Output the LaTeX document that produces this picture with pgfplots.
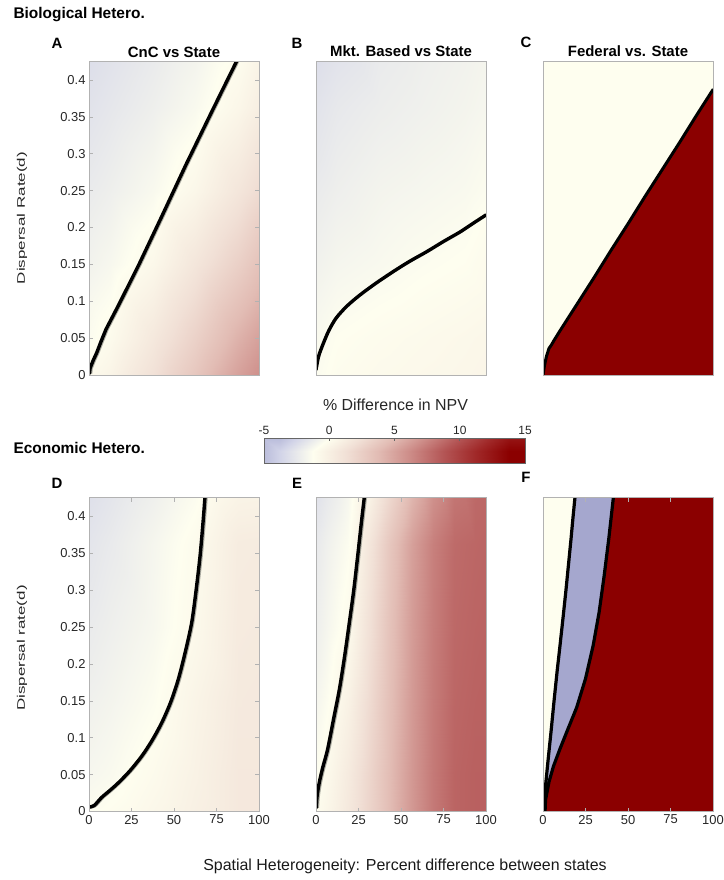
\documentclass[border=0pt]{standalone}
\usepackage{fontspec}
\setmainfont{Liberation Sans}
\usepackage{pgfplots}
\pgfplotsset{compat=1.18}

\definecolor{ivory}{RGB}{254,254,239}
\definecolor{npvblue}{RGB}{165,167,206}
\definecolor{npvred}{RGB}{139,0,0}
\definecolor{axgray}{RGB}{178,178,178}
\definecolor{halo}{RGB}{170,170,160}

\pgfplotsset{
  colormap={npv}{rgb255(0)=(163,166,206) rgb255(2.5)=(210,212,232) rgb255(5)=(254,254,239)
    rgb255(7.5)=(241,224,214) rgb255(10)=(226,188,180) rgb255(12.5)=(204,138,134)
    rgb255(15)=(180,86,86) rgb255(17.5)=(160,40,40) rgb255(20)=(139,0,0)},
  panel/.style={
    scale only axis, width=170bp, height=314bp, anchor=north west,
    xmin=0, xmax=100, ymin=0, ymax=0.4257,
    axis line style={axgray, line width=0.6bp},
    every tick/.style={axgray, line width=0.6bp},
    tick align=inside, major tick length=4bp,
    tick label style={font=\fontsize{13}{13}\selectfont, text=black!85},
    /pgf/number format/assume math mode=true,
    colormap name=npv, point meta min=-5, point meta max=15,
    xtick={0,25,50,75,100},
    ytick={0,0.05,0.1,0.15,0.2,0.25,0.3,0.35,0.4},
    yticklabel style={/pgf/number format/fixed, /pgf/number format/precision=2},
    axis on top,
  },
  contour/.style={black, line width=3.4bp, line join=round, line cap=round},
  shadow/.style={halo, line width=3.4bp, xshift=1.1bp, line join=round},
}

\newcommand{\ptitle}[1]{\fontsize{15}{15}\selectfont\bfseries #1}

\begin{document}
\begin{tikzpicture}
\path[use as bounding box] (0bp,0bp) rectangle (724bp,-880bp);

% ---------- row headings and panel letters ----------
\node[anchor=west, font=\fontsize{15.5}{15.5}\selectfont\bfseries] at (10bp,-15bp) {Biological Hetero.};
\node[anchor=west, font=\fontsize{15.5}{15.5}\selectfont\bfseries] at (10bp,-448bp) {Economic Hetero.};
\foreach \L/\x/\y in {A/57/43, B/297/43, C/526/42, D/57/483, E/297/483, F/526/477}
  \node[font=\fontsize{15}{15}\selectfont\bfseries] at (\x bp,-\y bp) {\L};

\node[font=\ptitle{}] at (174bp,-52bp) {CnC vs State};
\node[font=\ptitle{}] at (401bp,-51bp) {Mkt. Based vs State};
\node[font=\ptitle{}] at (628bp,-51bp) {Federal vs. State};

\node[rotate=90, xscale=1.55, font=\fontsize{11}{11}\selectfont, text=black!85] at (22bp,-218bp) {Dispersal Rate(d)};
\node[rotate=90, xscale=1.55, font=\fontsize{11}{11}\selectfont, text=black!85] at (22bp,-648bp) {Dispersal rate(d)};
\node[font=\fontsize{16}{16}\selectfont, text=black!90] at (405bp,-866bp) {Spatial Heterogeneity: Percent difference between states};

% ---------- A: CnC vs State ----------
\begin{axis}[panel, at={(89bp,-61bp)}, xtick=\empty]
\addplot[matrix plot*, shader=interp, mesh/cols=5, point meta=explicit] table[meta=c] {
x y c
0 0 0
25 0 1.3
50 0 3.0
75 0 5.0
100 0 7.2
0 0.1 -0.6
25 0.1 0.3
50 0.1 1.8
75 0.1 3.5
100 0.1 5.5
0 0.2 -1.0
25 0.2 -0.4
50 0.2 0.5
75 0.2 2.0
100 0.2 3.6
0 0.3 -1.4
25 0.3 -0.9
50 0.3 -0.3
75 0.3 0.6
100 0.3 2.0
0 0.4257 -1.9
25 0.4257 -1.4
50 0.4257 -0.9
75 0.4257 -0.3
100 0.4257 0.6
};
\addplot[shadow] coordinates {(0.3,0.002) (0.6,0.009) (2.5,0.02) (4.5,0.03) (7,0.045) (10,0.062) (17,0.093) (29,0.148) (43,0.216) (57,0.285) (72,0.356) (86.9,0.4257)};
\addplot[contour] coordinates {(0.3,0.002) (0.6,0.009) (2.5,0.02) (4.5,0.03) (7,0.045) (10,0.062) (17,0.093) (29,0.148) (43,0.216) (57,0.285) (72,0.356) (86.9,0.4257)};
\end{axis}

% ---------- B: Mkt. Based vs State ----------
\begin{axis}[panel, at={(316bp,-61bp)}, xtick=\empty, ytick=\empty]
\addplot[matrix plot*, shader=interp, mesh/cols=5, point meta=explicit] table[meta=c] {
x y c
0 0 0
25 0 0.3
50 0 0.5
75 0 0.6
100 0 0.7
0 0.1 -0.6
25 0.1 0.0
50 0.1 0.2
75 0.1 0.35
100 0.1 0.5
0 0.2 -1.0
25 0.2 -0.5
50 0.2 -0.3
75 0.2 -0.1
100 0.2 0.05
0 0.3 -1.4
25 0.3 -0.9
50 0.3 -0.6
75 0.3 -0.45
100 0.3 -0.3
0 0.4257 -1.9
25 0.4257 -1.3
50 0.4257 -1.0
75 0.4257 -0.8
100 0.4257 -0.6
};
\addplot[contour, smooth] coordinates {(0,0.007) (1.5,0.025) (4,0.041) (7.5,0.06) (11.8,0.077) (18,0.093) (25.6,0.108) (35,0.124) (45.3,0.14) (55,0.154) (65,0.167) (75,0.181) (84.8,0.194) (92,0.205) (100,0.217)};
\end{axis}

% ---------- C: Federal vs. State ----------
\begin{axis}[panel, at={(543bp,-61bp)}, xtick=\empty, ytick=\empty, axis background/.style={fill=ivory}]
\addplot[fill=npvred, draw=none] coordinates {(0,0) (0.8,0.012) (2,0.025) (3.5,0.036) (5,0.041) (6.5,0.047) (10,0.06) (20,0.096) (30,0.132) (40,0.169) (50,0.205) (60,0.242) (70,0.278) (80,0.314) (90,0.351) (100,0.387) (100,0)};
\addplot[contour, line width=3bp] coordinates {(0,0) (0.8,0.012) (2,0.025) (3.5,0.036) (5,0.041) (6.5,0.047) (10,0.06) (20,0.096) (30,0.132) (40,0.169) (50,0.205) (60,0.242) (70,0.278) (80,0.314) (90,0.351) (100,0.387)};
\end{axis}

% ---------- D ----------
\begin{axis}[panel, at={(89bp,-497.5bp)}]
\addplot[matrix plot*, shader=interp, mesh/cols=5, point meta=explicit] table[meta=c] {
x y c
0 0 0
25 0 0.4
50 0 0.8
75 0 1.3
100 0 1.8
0 0.1 -0.6
25 0.1 -0.25
50 0.1 0.3
75 0.1 1.0
100 0.1 1.8
0 0.2 -1.0
25 0.2 -0.6
50 0.2 -0.1
75 0.2 0.8
100 0.2 1.7
0 0.3 -1.4
25 0.3 -0.9
50 0.3 -0.4
75 0.3 0.4
100 0.3 1.6
0 0.4257 -1.8
25 0.4257 -1.2
50 0.4257 -0.5
75 0.4257 0.25
100 0.4257 1.5
};
\addplot[shadow, smooth] coordinates {(0,0.006) (3,0.008) (7.4,0.019) (12,0.028) (17.3,0.039) (24,0.055) (31,0.075) (37,0.096) (42.7,0.12) (48,0.148) (52.5,0.179) (56.5,0.215) (60.4,0.256) (63,0.3) (65.3,0.346) (67,0.39) (68.2,0.4257)};
\addplot[contour, smooth] coordinates {(0,0.006) (3,0.008) (7.4,0.019) (12,0.028) (17.3,0.039) (24,0.055) (31,0.075) (37,0.096) (42.7,0.12) (48,0.148) (52.5,0.179) (56.5,0.215) (60.4,0.256) (63,0.3) (65.3,0.346) (67,0.39) (68.2,0.4257)};
\end{axis}

% ---------- E ----------
\begin{axis}[panel, at={(316bp,-497.5bp)}, ytick=\empty]
\addplot[matrix plot*, shader=interp, mesh/cols=9, point meta=explicit] table[meta=c] {
x y c
0 0 0
12.5 0 0.9
25 0 2.0
37.5 0 3.4
50 0 5.0
62.5 0 6.8
75 0 8.3
87.5 0 9.3
100 0 9.5
0 0.1 -0.6
12.5 0.1 0.4
25 0.1 1.6
37.5 0.1 3.2
50 0.1 5.0
62.5 0.1 6.8
75 0.1 8.3
87.5 0.1 9.3
100 0.1 9.5
0 0.2 -1.0
12.5 0.2 -0.1
25 0.2 1.0
37.5 0.2 2.8
50 0.2 4.8
62.5 0.2 6.7
75 0.2 8.2
87.5 0.2 9.2
100 0.2 9.4
0 0.3 -1.4
12.5 0.3 -0.5
25 0.3 0.3
37.5 0.3 2.4
50 0.3 4.6
62.5 0.3 6.6
75 0.3 8.1
87.5 0.3 9.1
100 0.3 9.3
0 0.4257 -1.7
12.5 0.4257 -0.8
25 0.4257 -0.1
37.5 0.4257 2.0
50 0.4257 4.3
62.5 0.4257 6.4
75 0.4257 8.0
87.5 0.4257 9.0
100 0.4257 9.2
};
\addplot[shadow, smooth] coordinates {(0.2,0.005) (0.6,0.02) (1.9,0.039) (4,0.06) (6.8,0.084) (10.3,0.125) (13.7,0.165) (16.8,0.21) (19.6,0.256) (22.2,0.3) (24.5,0.346) (26.6,0.39) (28.4,0.4257)};
\addplot[contour, smooth] coordinates {(0.2,0.005) (0.6,0.02) (1.9,0.039) (4,0.06) (6.8,0.084) (10.3,0.125) (13.7,0.165) (16.8,0.21) (19.6,0.256) (22.2,0.3) (24.5,0.346) (26.6,0.39) (28.4,0.4257)};
\end{axis}

% ---------- F ----------
\begin{axis}[panel, at={(543bp,-497.5bp)}, ytick=\empty, axis background/.style={fill=ivory}]
\addplot[fill=npvblue, draw=none] coordinates {(0.3,0) (1.5,0.035) (3,0.07) (4.8,0.11) (6.5,0.15) (8.3,0.19) (10,0.225) (11.8,0.263) (13.5,0.3) (15,0.335) (16.5,0.37) (17.7,0.4) (18.8,0.4257) (100,0.4257) (100,0)};
\addplot[fill=npvred, draw=none] coordinates {(1.2,0) (1.5,0.016) (3.5,0.04) (6.1,0.061) (10,0.085) (14,0.108) (19.8,0.141) (25,0.18) (29.5,0.225) (33,0.27) (36,0.32) (38.7,0.37) (41.4,0.4257) (100,0.4257) (100,0)};
\addplot[contour, line width=3.2bp] coordinates {(0.3,0) (1.5,0.035) (3,0.07) (4.8,0.11) (6.5,0.15) (8.3,0.19) (10,0.225) (11.8,0.263) (13.5,0.3) (15,0.335) (16.5,0.37) (17.7,0.4) (18.8,0.4257)};
\addplot[contour, line width=3.2bp] coordinates {(1.2,0) (1.5,0.016) (3.5,0.04) (6.1,0.061) (10,0.085) (14,0.108) (19.8,0.141) (25,0.18) (29.5,0.225) (33,0.27) (36,0.32) (38.7,0.37) (41.4,0.4257)};
\end{axis}

% ---------- colour bar ----------
\node[font=\fontsize{16}{16}\selectfont, text=black!85] at (395.5bp,-405bp) {\% Difference in NPV};
\begin{axis}[scale only axis, width=261bp, height=25bp, anchor=north west, at={(264bp,-438bp)},
  xmin=-5, xmax=15, ymin=0, ymax=1, ytick=\empty,
  xtick={-5,0,5,10,15}, xtick pos=right, xticklabel pos=right,
  tick align=inside, major tick length=3bp,
  axis line style={black!60, line width=0.6bp},
  every tick/.style={black!60, line width=0.6bp},
  tick label style={font=\fontsize{12}{12}\selectfont, text=black!85},
  /pgf/number format/assume math mode=true,
  colormap name=npv, point meta min=-5, point meta max=15, axis on top]
\addplot[matrix plot*, shader=interp, mesh/cols=9, point meta=explicit] table[meta=c] {
x y c
-5 0 -5
-2.5 0 -2.5
0 0 0
2.5 0 2.5
5 0 5
7.5 0 7.5
10 0 10
12.5 0 12.5
15 0 15
-5 1 -5
-2.5 1 -2.5
0 1 0
2.5 1 2.5
5 1 5
7.5 1 7.5
10 1 10
12.5 1 12.5
15 1 15
};
\end{axis}
\end{tikzpicture}
\end{document}
